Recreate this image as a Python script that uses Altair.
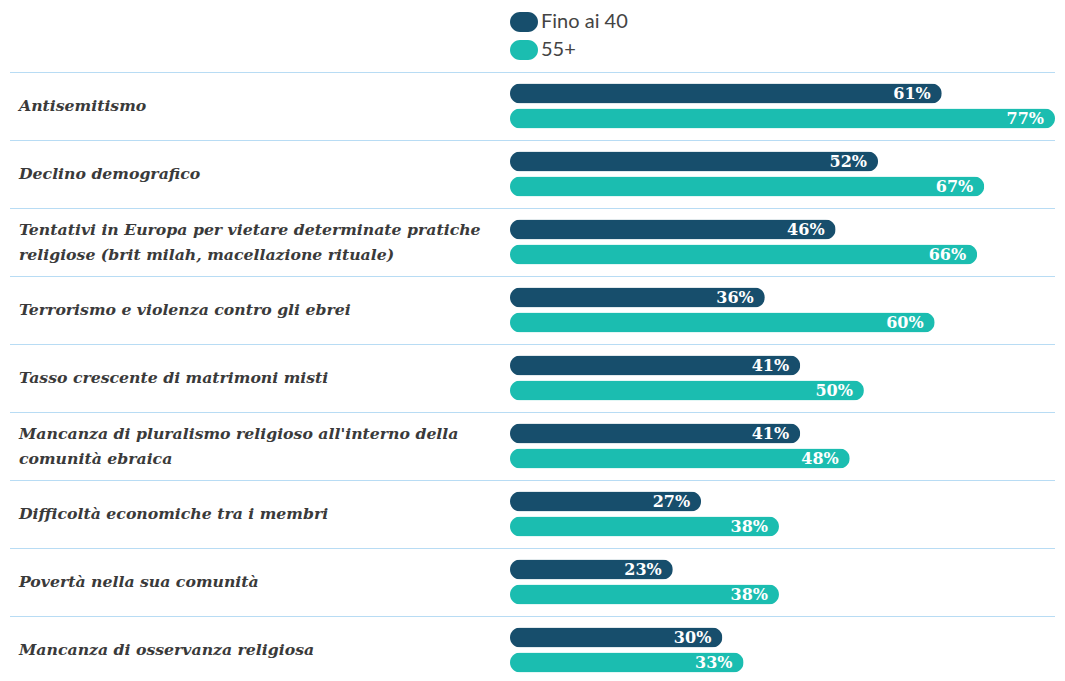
import altair as alt
import pandas as pd

categories = [
    "Antisemitismo",
    "Declino demografico",
    "Tentativi in Europa",
    "Terrorismo",
    "Matrimoni misti",
    "Pluralismo",
    "Difficoltà economiche",
    "Povertà",
    "Osservanza",
]
label_line1 = [
    "Antisemitismo",
    "Declino demografico",
    "Tentativi in Europa per vietare determinate pratiche",
    "Terrorismo e violenza contro gli ebrei",
    "Tasso crescente di matrimoni misti",
    "Mancanza di pluralismo religioso all'interno della",
    "Difficoltà economiche tra i membri",
    "Povertà nella sua comunità",
    "Mancanza di osservanza religiosa",
]
label_line2 = [
    "",
    "",
    "religiose (brit milah, macellazione rituale)",
    "",
    "",
    "comunità ebraica",
    "",
    "",
    "",
]
groups = ["Fino ai 40", "55+"]
young = [61, 52, 46, 36, 41, 41, 27, 23, 30]
old = [77, 67, 66, 60, 50, 48, 38, 38, 33]

colors = ["#174e6c", "#1bbdb0"]

rows = []
for c, a, b in zip(categories, young, old):
    rows.append({"cat": c, "group": groups[0], "value": a, "label": f"{a}%"})
    rows.append({"cat": c, "group": groups[1], "value": b, "label": f"{b}%"})
df = pd.DataFrame(rows)
cat_df = pd.DataFrame({
    "cat": categories,
    "line1": label_line1,
    "line2": label_line2,
    "nlines": [2 if l2 else 1 for l2 in label_line2],
})

yscale = alt.Scale(range=[64, 676], paddingInner=0, paddingOuter=0)
Y = alt.Y("cat:N", sort=categories, axis=None, scale=yscale)
YO = alt.YOffset("group:N", sort=groups, scale=alt.Scale(paddingInner=0.2, paddingOuter=0.46))
X = alt.X("value:Q", axis=None, scale=alt.Scale(domain=[0, 77], range=[502, 1047]))

stadium = ("M-0.286,-0.714 L0.286,-0.714 A0.714,0.714 0 0 1 0.286,0.714 "
           "L-0.286,0.714 A0.714,0.714 0 0 1 -0.286,-0.714 Z")

rules = alt.Chart(cat_df).mark_rule(color="#b8dcf4", strokeWidth=1).encode(
    y=alt.Y("cat:N", sort=categories, axis=None,
            scale=alt.Scale(range=[64.5, 676.5], paddingInner=0, paddingOuter=0),
            bandPosition=0),
    x=alt.value(2),
    x2=alt.value(1047),
)

text_style = dict(
    align="left", baseline="middle", font="DejaVu Serif", fontStyle="italic",
    fontWeight="bold", fontSize=15.7, color="#3a3a3a",
)

single = alt.Chart(cat_df).transform_filter("datum.nlines == 1").mark_text(
    **text_style
).encode(y=Y, x=alt.value(11), text="line1:N")

first = alt.Chart(cat_df).transform_filter("datum.nlines == 2").mark_text(
    dy=-12.5, **text_style
).encode(y=Y, x=alt.value(11), text="line1:N")

second = alt.Chart(cat_df).transform_filter("datum.nlines == 2").mark_text(
    dy=12.5, **text_style
).encode(y=Y, x=alt.value(11), text="line2:N")

bars = alt.Chart(df).mark_bar(cornerRadius=10).encode(
    x=X,
    y=Y,
    yOffset=YO,
    color=alt.Color(
        "group:N", sort=groups,
        scale=alt.Scale(domain=groups, range=colors),
        legend=alt.Legend(
            title=None, orient="none", legendX=502, legendY=0,
            symbolType=stadium, symbolSize=784, symbolStrokeWidth=0,
            symbolOpacity=1, labelFont="Lato", labelFontSize=20,
            labelColor="#444444", labelOffset=3, rowPadding=4, padding=0,
        ),
    ),
)

values = alt.Chart(df).mark_text(
    align="right", baseline="middle", dx=-11, color="white",
    font="DejaVu Serif", fontWeight="bold", fontSize=16,
).encode(
    x=X,
    y=Y,
    yOffset=YO,
    text="label:N",
)

content = alt.layer(single, first, second, bars, values)

chart = alt.layer(rules, content).resolve_scale(y="independent").properties(
    width=1049, height=665,
    autosize=alt.AutoSizeParams(type="none"),
    padding=0,
).configure_view(stroke=None)

chart.save("out.html", embed_options={"renderer": "svg", "actions": False})
